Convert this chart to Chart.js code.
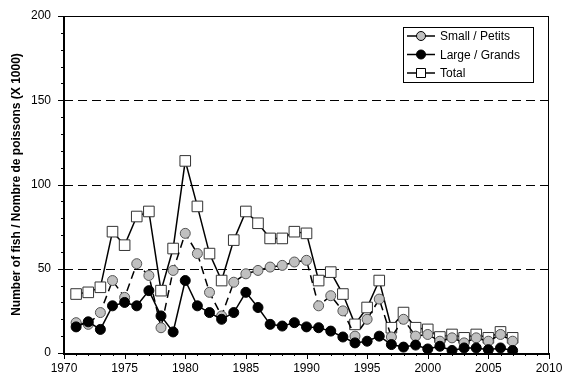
<!DOCTYPE html>
<html>
<head>
    <title>Number of fish</title>
    <style>
        body { margin: 0; padding: 0; background: #ffffff; }
        #wrap { width: 571px; height: 380px; }
    </style>
    <script src="https://cdn.jsdelivr.net/npm/chart.js"></script>
</head>
<body>
<div id="wrap"><canvas id="fishChart" width="571" height="380"></canvas></div>
<script>
    // data (thousands of fish)
    var years = [1971, 1972, 1973, 1974, 1975, 1976, 1977, 1978, 1979, 1980,
                 1981, 1982, 1983, 1984, 1985, 1986, 1987, 1988, 1989, 1990,
                 1991, 1992, 1993, 1994, 1995, 1996, 1997, 1998, 1999, 2000,
                 2001, 2002, 2003, 2004, 2005, 2006, 2007];
    var small = [18, 17, 24, 43, 33, 53, 46, 15, 49, 71,
                 59, 36, 22, 42, 47, 49, 51, 52, 54, 55,
                 28, 34, 25, 10, 20, 32, 9.5, 20, 10, 11,
                 7, 9, 6, 9, 7, 11, 7];
    var large = [15.5, 18.5, 14, 28, 30, 28, 37, 22, 12.5, 43,
                 28, 24, 20, 24, 36, 27, 17, 16, 18, 15.5,
                 15, 13, 9.5, 6, 7, 10, 5, 3.5, 4.7, 2.4,
                 4, 1.5, 3, 3, 2, 3, 1.5];
    var total = [35, 36, 39, 72, 64, 81, 84, 37, 62, 114,
                 87, 59, 43, 67, 84, 77, 68, 68, 72, 71,
                 43, 48, 35, 17, 27, 43, 15, 24, 15, 14,
                 9.5, 11, 9, 11, 9, 12.5, 9];
    var yTicks = [0, 50, 100, 150, 200];
    var xTicks = [1970, 1975, 1980, 1985, 1990, 1995, 2000, 2005, 2010];

    function pairs(vals) {
        return years.map(function (yr, i) { return { x: yr, y: vals[i] }; });
    }

    // frame, dashed grid lines and tick marks
    var framePlugin = {
        id: 'frame',
        beforeDatasetsDraw: function (chart) {
            var ctx = chart.ctx, a = chart.chartArea;
            var xs = chart.scales.x, ys = chart.scales.y;
            ctx.save();
            ctx.strokeStyle = '#000';
            ctx.lineWidth = 1;
            ctx.setLineDash([9, 5]);
            [50, 100, 150].forEach(function (v) {
                var py = Math.round(ys.getPixelForValue(v)) + 0.5;
                ctx.beginPath();
                ctx.moveTo(a.left, py);
                ctx.lineTo(a.right, py);
                ctx.stroke();
            });
            ctx.setLineDash([]);
            ctx.strokeRect(a.left + 0.5, a.top + 0.5, a.right - a.left - 1, a.bottom - a.top);
            // y ticks
            for (var v = 0; v <= 200; v += 10) {
                var py = Math.round(ys.getPixelForValue(v)) + 0.5;
                var len = (v % 50 === 0) ? 6 : 3;
                ctx.beginPath();
                ctx.moveTo(a.left - len, py);
                ctx.lineTo(a.left, py);
                ctx.stroke();
            }
            // x ticks
            for (var yr = 1970; yr <= 2010; yr++) {
                var px = Math.round(xs.getPixelForValue(yr)) + 0.5;
                var l2 = (yr % 5 === 0) ? 6 : 3;
                ctx.beginPath();
                ctx.moveTo(px, a.bottom);
                ctx.lineTo(px, a.bottom + l2);
                ctx.stroke();
            }
            // heavier left and bottom axes
            ctx.lineWidth = 2;
            ctx.beginPath();
            ctx.moveTo(a.left, a.top);
            ctx.lineTo(a.left, a.bottom + 1);
            ctx.lineTo(a.right, a.bottom + 1);
            ctx.stroke();
            ctx.restore();
        },
        afterDraw: function (chart) {
            // boxed legend with line + marker samples
            var ctx = chart.ctx;
            var bx = 403, by = 27, bw = 130, bh = 55;
            ctx.save();
            ctx.fillStyle = '#fff';
            ctx.fillRect(bx, by, bw, bh);
            ctx.strokeStyle = '#000';
            ctx.lineWidth = 1;
            ctx.strokeRect(bx + 0.5, by + 0.5, bw, bh);
            ctx.font = '12px Arial, "Liberation Sans", sans-serif';
            ctx.textBaseline = 'middle';
            [0, 1, 2].forEach(function (i) {
                var ds = chart.data.datasets[i];
                var cy = by + 9 + i * 18.5;
                ctx.strokeStyle = '#000';
                ctx.lineWidth = 1.5;
                ctx.beginPath();
                ctx.moveTo(bx + 4, cy);
                ctx.lineTo(bx + 32, cy);
                ctx.stroke();
                ctx.lineWidth = 1;
                ctx.fillStyle = ds.pointBackgroundColor;
                ctx.strokeStyle = '#000';
                ctx.beginPath();
                if (ds.pointStyle === 'rect') {
                    ctx.rect(bx + 13.5, cy - 4.5, 9, 9);
                } else {
                    ctx.arc(bx + 18, cy, 4.5, 0, Math.PI * 2);
                }
                ctx.fill();
                ctx.stroke();
                ctx.fillStyle = '#000';
                ctx.fillText(ds.label, bx + 37, cy + 1);
            });
            ctx.restore();
        }
    };

    var ctx = document.getElementById('fishChart').getContext('2d');
    var fishChart = new Chart(ctx, {
        type: 'line',
        data: {
            datasets: [{
                label: 'Small / Petits',
                data: pairs(small),
                borderColor: '#000',
                borderWidth: 1.5,
                borderDash: [8, 5],
                pointStyle: 'circle',
                pointRadius: 5,
                pointBackgroundColor: '#c0c0c0',
                pointBorderColor: '#555',
                pointBorderWidth: 1,
                order: 2
            }, {
                label: 'Large / Grands',
                data: pairs(large),
                borderColor: '#000',
                borderWidth: 1.5,
                pointStyle: 'circle',
                pointRadius: 5,
                pointBackgroundColor: '#000',
                pointBorderColor: '#000',
                pointBorderWidth: 1,
                order: 1
            }, {
                label: 'Total',
                data: pairs(total),
                borderColor: '#000',
                borderWidth: 1.5,
                pointStyle: 'rect',
                pointRadius: 7.5,
                pointBackgroundColor: '#fff',
                pointBorderColor: '#333',
                pointBorderWidth: 1,
                order: 3
            }]
        },
        options: {
            responsive: false,
            animation: false,
            layout: { padding: { top: 16, right: 22, left: 9, bottom: 0 } },
            plugins: {
                legend: { display: false },
                tooltip: { enabled: false }
            },
            scales: {
                x: {
                    type: 'linear',
                    min: 1970,
                    max: 2010,
                    afterBuildTicks: function (scale) {
                        scale.ticks = xTicks.map(function (v) { return { value: v }; });
                    },
                    grid: { display: false, drawTicks: false },
                    border: { display: false },
                    ticks: {
                        padding: 8,
                        color: '#000',
                        maxRotation: 0,
                        autoSkip: false,
                        font: { family: 'Arial, "Liberation Sans", sans-serif', size: 12 },
                        callback: function (v) { return String(v); }
                    },
                    afterFit: function (scale) { scale.height = 27; }
                },
                y: {
                    min: 0,
                    max: 200,
                    afterBuildTicks: function (scale) {
                        scale.ticks = yTicks.map(function (v) { return { value: v }; });
                    },
                    grid: { display: false, drawTicks: false },
                    border: { display: false },
                    ticks: {
                        padding: 13,
                        color: '#000',
                        font: { family: 'Arial, "Liberation Sans", sans-serif', size: 12 }
                    },
                    title: {
                        display: true,
                        text: 'Number of fish / Nombre de poissons (X 1000)',
                        color: '#000',
                        font: { family: 'Arial, "Liberation Sans", sans-serif', size: 12, weight: 'bold' },
                        padding: { top: 0, bottom: 4 }
                    },
                    afterFit: function (scale) {
                        scale.width = 55;
                        scale.paddingTop = 0;
                        scale.paddingBottom = 0;
                    }
                }
            }
        },
        plugins: [framePlugin]
    });
</script>
</body>
</html>
